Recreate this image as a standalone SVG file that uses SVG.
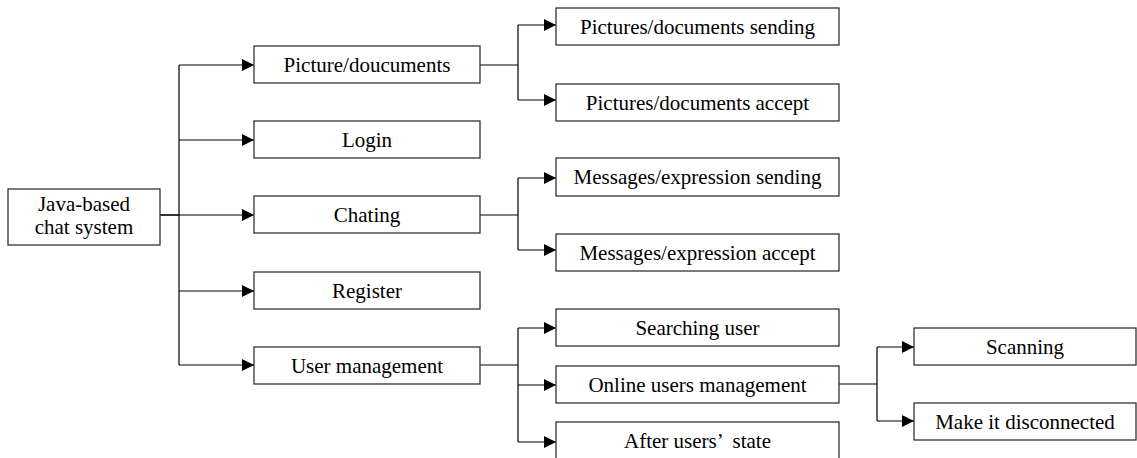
<svg xmlns="http://www.w3.org/2000/svg" width="1137" height="458" viewBox="0 0 1137 458">
  <defs>
    <marker id="arrow" viewBox="0 0 12 12" refX="12" refY="6" markerWidth="12" markerHeight="12" markerUnits="userSpaceOnUse" orient="auto">
      <path d="M0,0 L12,6 L0,12 Z" fill="#000"/>
    </marker>
    <style>
      .box { fill: #fff; stroke: #333; stroke-width: 1.3; }
      .lbl { font-family: "Liberation Serif", "Times New Roman", serif; font-size: 21px; fill: #000; text-anchor: middle; }
      .wire { fill: none; stroke: #000; stroke-width: 1.2; }
      .arr { fill: none; stroke: #000; stroke-width: 1.2; marker-end: url(#arrow); }
    </style>
  </defs>
  <rect width="1137" height="458" fill="#fff"/>

  <!-- connectors -->
  <g id="connectors">
    <!-- root to first level -->
    <path class="wire" d="M160,215 H179"/>
    <path class="wire" d="M179,65 V365"/>
    <path class="arr" d="M179,65 H254"/>
    <path class="arr" d="M179,140 H254"/>
    <path class="arr" d="M160,215 H254"/>
    <path class="arr" d="M179,291 H254"/>
    <path class="arr" d="M179,365 H254"/>
    <!-- Picture/doucuments branch -->
    <path class="wire" d="M480,65 H518 M518,25 V100"/>
    <path class="arr" d="M518,25 H556"/>
    <path class="arr" d="M518,100 H556"/>
    <!-- Chating branch -->
    <path class="wire" d="M480,215 H518 M518,178 V250"/>
    <path class="arr" d="M518,178 H556"/>
    <path class="arr" d="M518,250 H556"/>
    <!-- User management branch -->
    <path class="wire" d="M480,365 H518 M518,328 V442"/>
    <path class="arr" d="M518,328 H556"/>
    <path class="arr" d="M518,385 H556"/>
    <path class="arr" d="M518,442 H556"/>
    <!-- Online users management branch -->
    <path class="wire" d="M839,384 H877 M877,347 V421"/>
    <path class="arr" d="M877,347 H914"/>
    <path class="arr" d="M877,421 H914"/>
  </g>

  <!-- root -->
  <g id="root">
    <rect class="box" x="8" y="189" width="152" height="56"/>
    <text class="lbl" x="84" y="211">Java-based</text>
    <text class="lbl" x="84" y="234">chat system</text>
  </g>

  <!-- first level -->
  <g id="picture">
    <rect class="box" x="254" y="46" width="226" height="37"/>
    <text class="lbl" x="367" y="71.5">Picture/doucuments</text>
  </g>
  <g id="login">
    <rect class="box" x="254" y="121" width="226" height="37"/>
    <text class="lbl" x="367" y="146.5">Login</text>
  </g>
  <g id="chating">
    <rect class="box" x="254" y="196" width="226" height="37"/>
    <text class="lbl" x="367" y="221.5">Chating</text>
  </g>
  <g id="register">
    <rect class="box" x="254" y="272" width="226" height="37"/>
    <text class="lbl" x="367" y="297.5">Register</text>
  </g>
  <g id="user-management">
    <rect class="box" x="254" y="347" width="226" height="37"/>
    <text class="lbl" x="367" y="372.5">User management</text>
  </g>

  <!-- second level -->
  <g id="pictures-sending">
    <rect class="box" x="556" y="8" width="283" height="37"/>
    <text class="lbl" x="697.5" y="33.5">Pictures/documents sending</text>
  </g>
  <g id="pictures-accept">
    <rect class="box" x="556" y="84" width="283" height="37"/>
    <text class="lbl" x="697.5" y="109.5">Pictures/documents accept</text>
  </g>
  <g id="messages-sending">
    <rect class="box" x="556" y="158" width="283" height="38"/>
    <text class="lbl" x="697.5" y="184">Messages/expression sending</text>
  </g>
  <g id="messages-accept">
    <rect class="box" x="556" y="234" width="283" height="37"/>
    <text class="lbl" x="697.5" y="259.5">Messages/expression accept</text>
  </g>
  <g id="searching-user">
    <rect class="box" x="556" y="309" width="283" height="37"/>
    <text class="lbl" x="697.5" y="334.5">Searching user</text>
  </g>
  <g id="online-users">
    <rect class="box" x="556" y="366" width="283" height="37"/>
    <text class="lbl" x="697.5" y="391.5">Online users management</text>
  </g>
  <g id="after-state">
    <rect class="box" x="556" y="422" width="283" height="40"/>
    <text class="lbl" x="697.5" y="448">After users’<tspan dx="10">state</tspan></text>
  </g>

  <!-- third level -->
  <g id="scanning">
    <rect class="box" x="914" y="328" width="222" height="37"/>
    <text class="lbl" x="1025" y="353.5">Scanning</text>
  </g>
  <g id="disconnect">
    <rect class="box" x="914" y="403" width="222" height="37"/>
    <text class="lbl" x="1025" y="428.5">Make it disconnected</text>
  </g>
</svg>
